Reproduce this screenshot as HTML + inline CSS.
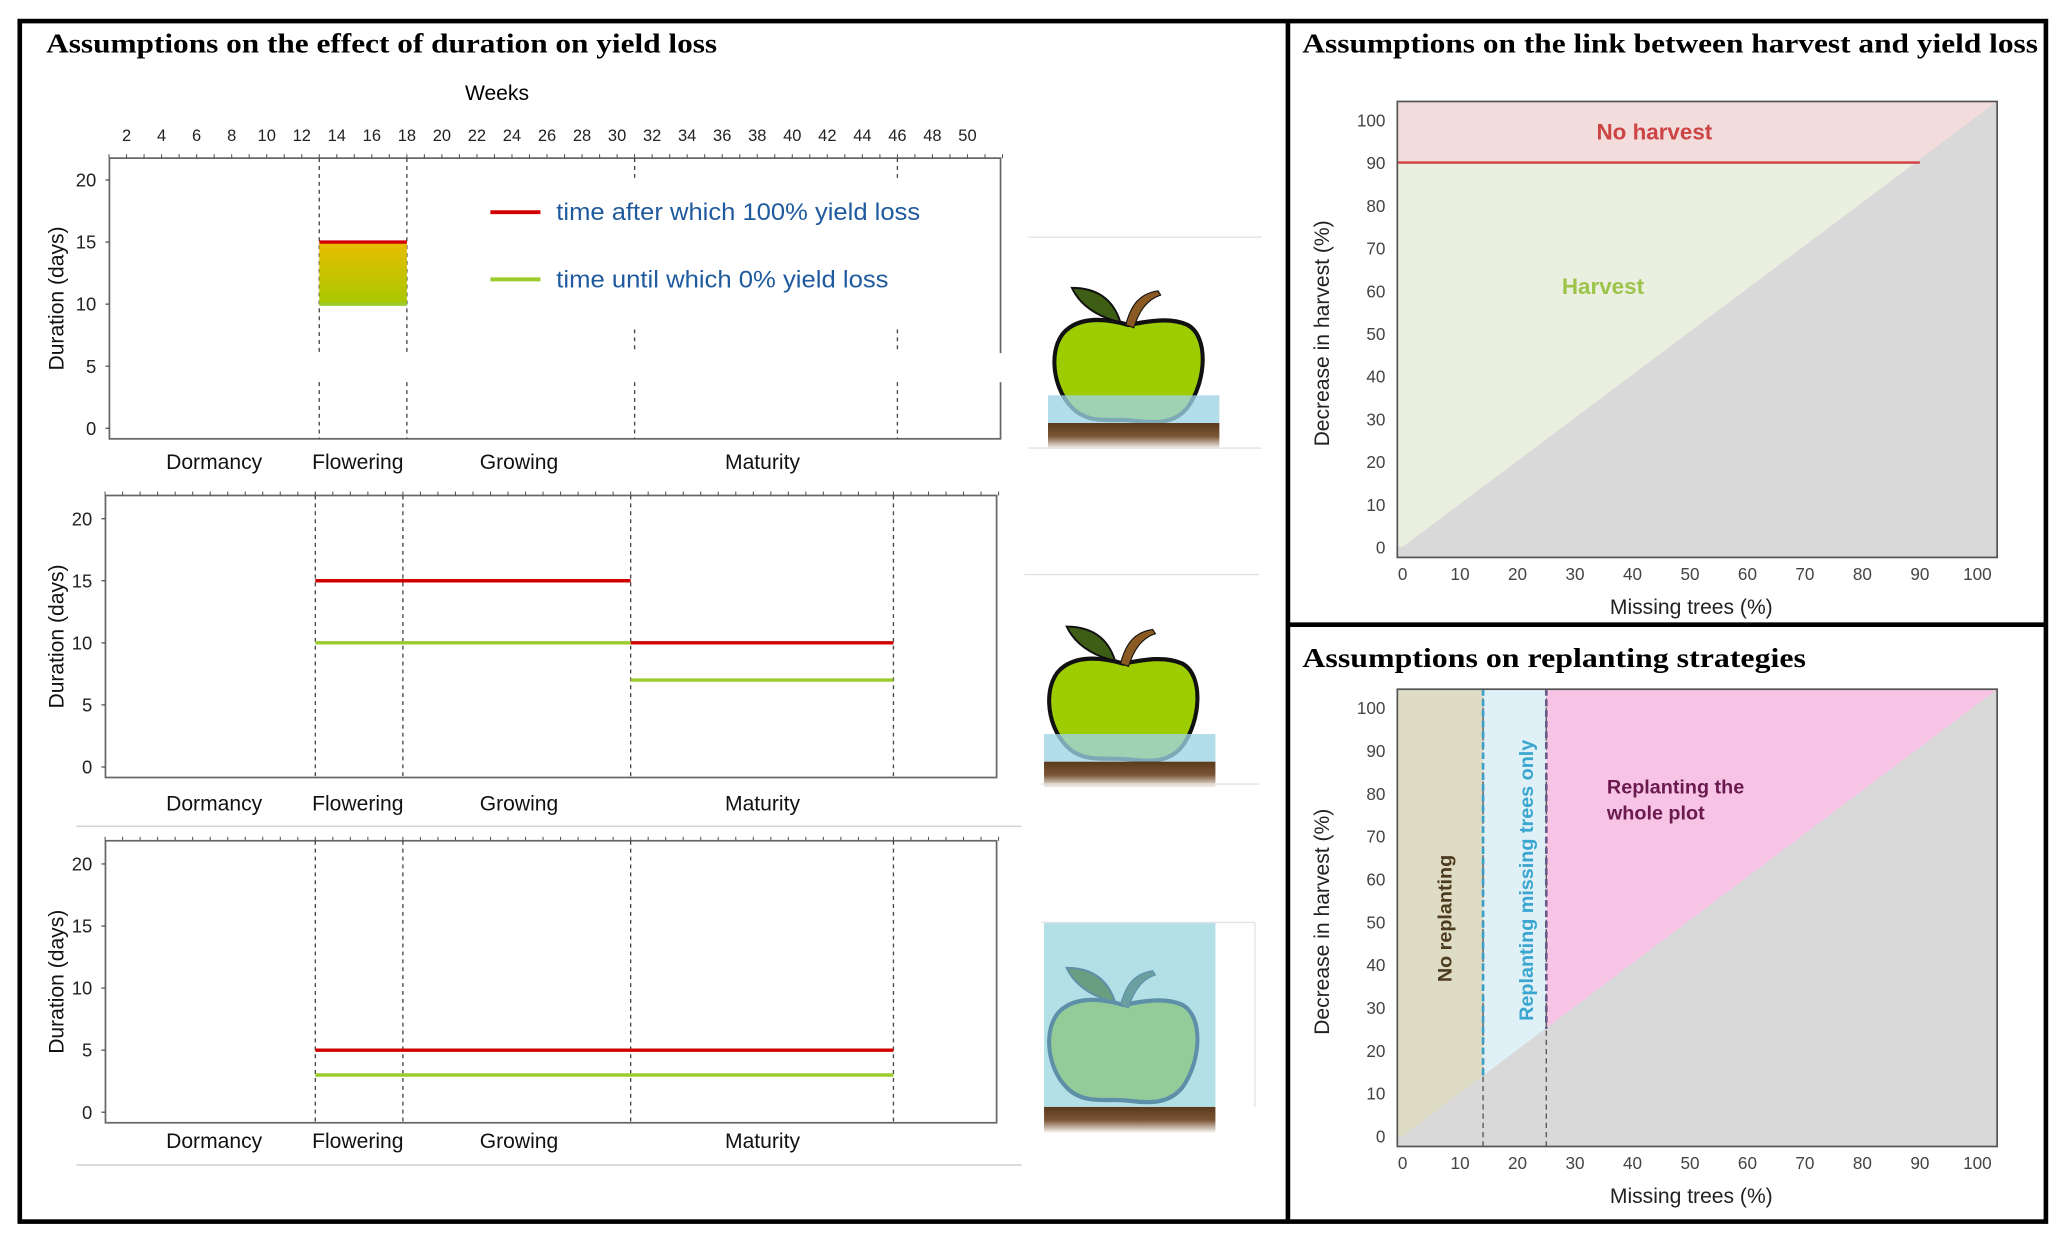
<!DOCTYPE html>
<html><head><meta charset="utf-8"><style>
html,body{margin:0;padding:0;background:#fff;}
svg{display:block;}
.sans{font-family:"Liberation Sans",sans-serif;}
.serif{font-family:"Liberation Serif",serif;font-weight:bold;}
</style></head><body>
<svg id="fig" width="2067" height="1244" viewBox="0 0 1568 944" preserveAspectRatio="none" xmlns="http://www.w3.org/2000/svg">
<rect x="0" y="0" width="1568" height="944" fill="#fff"/>
<defs>
<linearGradient id="gradYG" x1="0" y1="0" x2="0" y2="1"><stop offset="0" stop-color="#e9bd00"/><stop offset="1" stop-color="#a8c800"/></linearGradient>
<linearGradient id="soil" x1="0" y1="0" x2="0" y2="1"><stop offset="0" stop-color="#5a3a1c"/><stop offset="0.5" stop-color="#7a5535"/><stop offset="1" stop-color="#fff"/></linearGradient>
</defs>
<g id="frames">
<rect x="15" y="16" width="1537" height="911" fill="none" stroke="#000" stroke-width="3.5"/>
<line x1="977" y1="16" x2="977" y2="927" stroke="#000" stroke-width="3.5"/>
<line x1="977" y1="474" x2="1552" y2="474" stroke="#000" stroke-width="3.5"/>
</g>
<text class="serif" x="35" y="40" font-size="21" textLength="509" lengthAdjust="spacingAndGlyphs">Assumptions on the effect of duration on yield loss</text>
<text class="serif" x="988" y="40" font-size="21" textLength="558" lengthAdjust="spacingAndGlyphs">Assumptions on the link between harvest and yield loss</text>
<text class="serif" x="988" y="506" font-size="21" textLength="382" lengthAdjust="spacingAndGlyphs">Assumptions on  replanting strategies</text>
<text class="sans" x="377" y="76" font-size="16" text-anchor="middle">Weeks</text>
<g id="left"></g>
<g id="apples"></g>
<g id="rt"></g>
<g id="rb"></g>
</svg>
<script>
// ---------- data ----------
const weekTicks = [2,4,6,8,10,12,14,16,18,20,22,24,26,28,30,32,34,36,38,40,42,44,46,48,50];
const phaseBounds = [13,18,31,46];
const phaseNames = ["Dormancy","Flowering","Growing","Maturity"];
const phaseCenters = [7,15.2,24.4,38.3];
const durTicks = [0,5,10,15,20];
// scenario 1
const s1Red = [{from:13,to:18,d:15}];
const s1Green = [{from:13,to:18,d:10}];
// scenario 2
const s2Red = [{from:13,to:31,d:15},{from:31,to:46,d:10}];
const s2Green = [{from:13,to:31,d:10},{from:31,to:46,d:7}];
// scenario 3
const s3Red = [{from:13,to:46,d:5}];
const s3Green = [{from:13,to:46,d:3}];
const pctTicks = [0,10,20,30,40,50,60,70,80,90,100];
const noHarvestThreshold = 90;
const replantBounds = [14,25];

const NS="http://www.w3.org/2000/svg";
function mk(tag,attrs,parent,txt){const e=document.createElementNS(NS,tag);for(const k in attrs)e.setAttribute(k,attrs[k]);if(txt!==undefined)e.textContent=txt;parent.appendChild(e);return e;}
const L=document.getElementById('left');

const xw = w => 96 + (w-2)*13.29;
weekTicks.forEach(w=>{
  const t=mk('text',{x:xw(w),y:107,'font-size':12.5,'text-anchor':'middle','class':'sans',fill:'#222'},L,String(w));
  
  
});

function durationChart(top,left,right,bottom,y0,red,green,gradient,breaks,labOff){
  const g=mk('g',{},L);
  
  
  const scale=9.42;
  const yd=d=>y0-d*scale;
  const xs=w=>xw(w)+(left-83);
  const fr=mk('rect',{x:left,y:top,width:right-left,height:bottom-top,fill:'none',stroke:'#666','stroke-width':1.3},g);
  
  
  for(let w=1;w<=52;w++){const tk=mk('line',{x1:xs(w),x2:xs(w),y1:top-3,y2:top,stroke:'#555','stroke-width':0.8},g);
    
    }
  durTicks.forEach(d=>{
    const tl=mk('text',{x:left-10,y:yd(d)+5,'font-size':14,'text-anchor':'end','class':'sans',fill:'#222'},g,String(d));
    
    
    mk('line',{x1:left-3,x2:left,y1:yd(d),y2:yd(d),stroke:'#555'},g);
  });
  const yt=mk('text',{x:0,y:0,'font-size':16,'text-anchor':'middle','class':'sans',fill:'#111',transform:`translate(48,${(top+bottom)/2}) rotate(-90)`},g,'Duration (days)');
  
  
  phaseBounds.forEach((w,i)=>{
    const segs = breaks ? breaks[i] : [[top,bottom]];
    segs.forEach(s=>{const dl=mk('line',{x1:xs(w),x2:xs(w),y1:s[0],y2:s[1],stroke:'#444','stroke-width':1,'stroke-dasharray':'3,3'},g);
      
      });
  });
  if(gradient){
    const r=red[0],gr=green[0];
    const gb=mk('rect',{x:xs(r.from),y:yd(r.d),width:xs(r.to)-xs(r.from),height:yd(gr.d)-yd(r.d),fill:'url(#gradYG)'},g);
    
    
  }
  red.forEach(s=>{const l=mk('line',{x1:xs(s.from),x2:xs(s.to),y1:yd(s.d),y2:yd(s.d),stroke:'#d00000','stroke-width':2.6},g);
    
    });
  green.forEach(s=>{const l=mk('line',{x1:xs(s.from),x2:xs(s.to),y1:yd(s.d),y2:yd(s.d),stroke:'#9ccc2c','stroke-width':2.6},g);
    
    });
  phaseNames.forEach((n,i)=>{const p=mk('text',{x:xw(phaseCenters[i]),y:bottom+labOff,'font-size':16,'text-anchor':'middle','class':'sans',fill:'#111'},g,n);
    
    });
  return g;
}
const g1=durationChart(120,83,759,333,325,s1Red,s1Green,true,[[[120,268],[290,333]],[[120,268],[290,333]],[[120,137],[250,268],[290,333]],[[120,137],[250,268],[290,333]]],23);
mk('rect',{x:756,y:268,width:8,height:22,fill:'#fff'},g1);
const g2=durationChart(376,80,756,590,582,s2Red,s2Green,false,null,25);
const g3=durationChart(638,80,756,852,844,s3Red,s3Green,false,null,19);
[627,884].forEach(y=>{const s=mk('line',{x1:58,x2:775,y1:y,y2:y,stroke:'#ccc','stroke-width':1},L);
  
  });
const lg=mk('g',{},L);


mk('line',{x1:372,x2:410,y1:161,y2:161,stroke:'#d00000','stroke-width':3},lg);
const lt1=mk('text',{x:422,y:167,'font-size':18,'class':'sans',fill:'#1f5a9e',textLength:276,lengthAdjust:'spacingAndGlyphs'},lg,'time after which 100% yield loss');


mk('line',{x1:372,x2:410,y1:212,y2:212,stroke:'#9ccc2c','stroke-width':3},lg);
const lt2=mk('text',{x:422,y:218,'font-size':18,'class':'sans',fill:'#1f5a9e',textLength:252,lengthAdjust:'spacingAndGlyphs'},lg,'time until which 0% yield loss');



// ---------- apples ----------
const A=document.getElementById('apples');
const appleBody="M -44,-66 C -60,-56 -58,-25 -42,-10 C -30,2 -12,-2 0,-1 C 14,0 32,4 44,-10 C 58,-28 60,-60 44,-68 C 30,-74 12,-70 0,-68 C -14,-72 -32,-74 -44,-66 Z";
function apple(cx,by,wTop,wBot,wx0,wx1,faded){
  const g=mk('g',{},A);
  
  
  const body=faded?'#94cc99':'#9dcc00', ol=faded?'#5e8fa8':'#111', leaf=faded?'#6a9e80':'#3d5e14', stem=faded?'#6aa0a0':'#8a5a22';
  if(faded) mk('rect',{x:wx0,y:wTop,width:wx1-wx0,height:wBot-wTop,fill:'#b3dfe6'},g);
  const t=`translate(${cx},${by}) scale(1.02,1.08)`;
  mk('path',{d:appleBody,fill:body,stroke:ol,'stroke-width':3,transform:t},g);
  mk('path',{d:"M -2,-68 C 2,-82 8,-90 22,-92 L 24,-89 C 14,-86 8,-78 4,-66 Z",fill:stem,stroke:ol,'stroke-width':0.8,transform:t},g);
  mk('path',{d:"M -6,-70 C -16,-72 -34,-78 -42,-94 C -26,-94 -12,-88 -6,-70 Z",fill:leaf,stroke:ol,'stroke-width':1.4,transform:t},g);
  if(!faded) mk('rect',{x:wx0,y:wTop,width:wx1-wx0,height:wBot-wTop,fill:'#9fd4e6',opacity:0.78},g);
  mk('rect',{x:wx0,y:wBot,width:wx1-wx0,height:20,fill:'url(#soil)'},g);
}
apple(856,320,300,321,795,925,false);
apple(852,577,557,578,792,922,false);
apple(852,836,700,840,792,922,true);
[[780,180,957,180],[780,340,957,340],[777,436,955,436],[790,595,955,595],[790,700,952,700],[952,700,952,840]].forEach(c=>{
  const l=mk('line',{x1:c[0],y1:c[1],x2:c[2],y2:c[3],stroke:'#e2e2e2','stroke-width':1},A);
  
  
});

// ---------- right charts ----------
function pctAxes(g,top,bottom,left,right,y100,y0,ylab){
  const xp=v=>1064+v*4.36, yp=v=>y0-v*(y0-y100)/100;
  pctTicks.forEach(v=>{
    const a=mk('text',{x:xp(v),y:bottom+17,'font-size':13,'text-anchor':'middle','class':'sans',fill:'#444'},g,String(v));
    
    
    const b=mk('text',{x:left-9,y:yp(v)+5,'font-size':13,'text-anchor':'end','class':'sans',fill:'#444'},g,String(v));
    
    
  });
  const xt=mk('text',{x:1283,y:bottom+43,'font-size':16,'text-anchor':'middle','class':'sans',fill:'#222'},g,'Missing trees (%)');
  
  
  const yt=mk('text',{x:0,y:0,'font-size':16,'text-anchor':'middle','class':'sans',fill:'#222',transform:`translate(1008,${(top+bottom)/2+3}) rotate(-90)`},g,ylab);
  
  
  return [xp,yp];
}
(function(){
  const g=document.getElementById('rt');
  const top=77,bottom=423,left=1060,right=1515;
  const [xp,yp]=pctAxes(g,top,bottom,left,right,91,415,'Decrease in harvest (%)');
  mk('rect',{x:left,y:top,width:right-left,height:bottom-top,fill:'#ebefdf'},g);
  const nh=mk('rect',{x:left,y:top,width:right-left,height:yp(noHarvestThreshold)-top,fill:'#f2dcdc'},g);
  
  
  const tri=mk('polygon',{points:`${xp(0)},${yp(0)} ${right},${top} ${right},${bottom} ${left},${bottom} ${left},${yp(0)}`,fill:'#d9d9d9'},g);
  
  
  const rl=mk('line',{x1:left,x2:xp(noHarvestThreshold),y1:yp(noHarvestThreshold),y2:yp(noHarvestThreshold),stroke:'#d04040','stroke-width':1.8},g);
  
  
  mk('rect',{x:left,y:top,width:right-left,height:bottom-top,fill:'none',stroke:'#555','stroke-width':1.3},g);
  const t1=mk('text',{x:1255,y:106,'font-size':17,'font-weight':'bold','text-anchor':'middle','class':'sans',fill:'#cc4444'},g,'No harvest');
  
  
  const t2=mk('text',{x:1216,y:223,'font-size':17,'font-weight':'bold','text-anchor':'middle','class':'sans',fill:'#9cc44a'},g,'Harvest');
  
  
})();
(function(){
  const g=document.getElementById('rb');
  const top=523,bottom=870,left=1060,right=1515;
  const [xp,yp]=pctAxes(g,top,bottom,left,right,537,862,'Decrease in harvest  (%)');
  const b0=replantBounds[0],b1=replantBounds[1];
  const z1=mk('rect',{x:left,y:top,width:xp(b0)-left,height:bottom-top,fill:'#dedcc4'},g);
  
  
  const z2=mk('rect',{x:xp(b0),y:top,width:xp(b1)-xp(b0),height:bottom-top,fill:'#dff0f7'},g);
  
  
  const z3=mk('rect',{x:xp(b1),y:top,width:right-xp(b1),height:bottom-top,fill:'#f7c4e6'},g);
  
  
  const tri=mk('polygon',{points:`${xp(0)},${yp(0)} ${right},${top} ${right},${bottom} ${left},${bottom} ${left},${yp(0)}`,fill:'#d9d9d9'},g);
  
  
  replantBounds.forEach((b,i)=>{
    const d=mk('line',{x1:xp(b),x2:xp(b),y1:top,y2:bottom,stroke:'#555','stroke-width':1,'stroke-dasharray':'4,3'},g);
    
    
    const o=mk('line',{x1:xp(b),x2:xp(b),y1:top,y2:yp(b),stroke:i?'#6a5a8a':'#3aa0c8','stroke-width':2,'stroke-dasharray':'5,3'},g);
    
    
  });
  mk('rect',{x:left,y:top,width:right-left,height:bottom-top,fill:'none',stroke:'#555','stroke-width':1.3},g);
  const a=mk('text',{x:0,y:0,'font-size':15,'font-weight':'bold','text-anchor':'middle','class':'sans',fill:'#4d3b1f',transform:'translate(1101,697) rotate(-90)'},g,'No replanting');
  
  
  const b=mk('text',{x:0,y:0,'font-size':15,'font-weight':'bold','text-anchor':'middle','class':'sans',fill:'#3aa6d0',transform:'translate(1163,668) rotate(-90)'},g,'Replanting missing trees only');
  
  
  const c=mk('text',{x:1219,y:602,'font-size':15,'font-weight':'bold','class':'sans',fill:'#6b1a4f'},g,'Replanting the');
  
  
  const c2=mk('text',{x:1219,y:622,'font-size':15,'font-weight':'bold','class':'sans',fill:'#6b1a4f'},g,'whole plot');
  
  
})();
</script>
</body></html>
